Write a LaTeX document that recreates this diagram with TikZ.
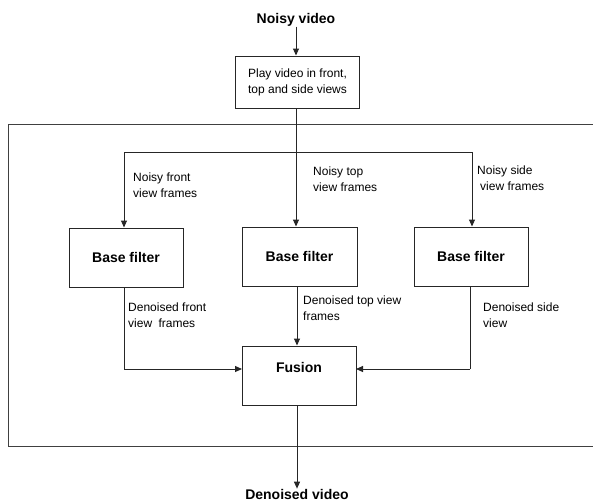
\documentclass[tikz,border=0pt]{standalone}
\usepackage{fontspec}
\setmainfont{Liberation Sans}
\usetikzlibrary{arrows.meta}
\begin{document}
\begin{tikzpicture}[x=1pt,y=-1pt,
  line/.style={draw=black!85, line width=1pt},
  arr/.style={line, -{Triangle[length=7pt,width=6pt]}},
  boxnode/.style={draw=black!85, line width=1pt, inner sep=0pt, align=center},
  lbl/.style={font=\fontsize{12}{16}\selectfont, inner sep=0pt, anchor=west, align=left},
  bold/.style={font=\fontsize{14}{17}\selectfont\bfseries, inner sep=0pt}]
\clip (0,0) rectangle (593,501);
\fill[white] (0,0) rectangle (593,501);
% outer frame (extends past right edge)
\draw[draw=black!75, line width=1pt] (8,124) rectangle (605,446);
% nodes
\node[bold] (in) at (296,20) {Noisy video};
\node[boxnode, minimum width=124pt, minimum height=52pt, font=\fontsize{12}{16}\selectfont] (play) at (297.5,82) {Play video in front,\\top and side views};
\node[boxnode, bold, draw=black!85, line width=1pt, minimum width=114pt, minimum height=59pt] (bf1) at (126,257.5) {Base filter};
\node[boxnode, bold, draw=black!85, line width=1pt, minimum width=115pt, minimum height=59pt] (bf2) at (299.5,256.5) {Base filter};
\node[boxnode, bold, draw=black!85, line width=1pt, minimum width=114pt, minimum height=59pt] (bf3) at (471,256.5) {Base filter};
\node[boxnode, bold, draw=black!85, line width=1pt, minimum width=114pt, minimum height=59pt, text height=10pt, text depth=17pt] (fus) at (299,375.5) {Fusion};
\node[bold] (out) at (297,494) {Denoised video};
% labels
\node[lbl] (nf) at (133,185.5) {Noisy front\\view frames};
\node[lbl] (nt) at (313,179) {Noisy top\\view frames};
\node[lbl] (ns) at (477,178) {Noisy side\\\hspace{3pt}view frames};
\node[lbl] (df) at (128,315) {Denoised front\\view\hspace{3pt} frames};
\node[lbl] (dt) at (303,308) {Denoised top view\\frames};
\node[lbl] (ds) at (483,315) {Denoised side\\view};
% coordinates
\coordinate (bL) at (124,152);
\coordinate (bR) at (472,152);
\coordinate (jL) at (124,369);
\coordinate (jR) at (470,369);
\coordinate (fusL) at (242,369);
\coordinate (fusR) at (356,369);
% connectors
\draw[arr] (in.south -| play.south) ++(-1.5,0) coordinate (inb) -- (inb |- play.north);
\draw[arr] (play.south) ++(-1.5,0) coordinate (pb) -- (pb |- bf2.north);
\draw[line] (bL) -- (bR);
\draw[arr] (bL) -- (bL |- bf1.north);
\draw[arr] (bR) -- (bR |- bf3.north);
\draw[line] (bL |- bf1.south) -- (jL);
\draw[arr] (jL) -- (fusL);
\draw[line] (jR |- bf3.south) -- (jR);
\draw[arr] (jR) -- (fusR);
\draw[arr] (bf2.south) ++(-2.5,0) coordinate (mb) -- (mb |- fus.north);
\draw[arr] (fus.south) ++(-2,0) coordinate (fb) -- (fb |- out.north);
\end{tikzpicture}
\end{document}
